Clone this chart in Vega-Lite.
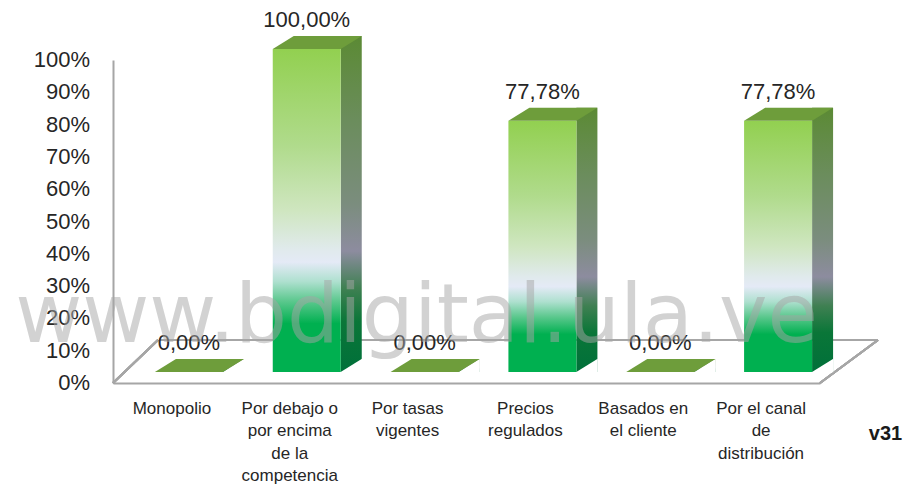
{
  "$schema": "https://vega.github.io/schema/vega-lite/v6.json",
  "autosize": {"type": "none"},
  "padding": {"left": 113, "top": 60, "right": 89, "bottom": 105},
  "width": 707,
  "height": 323,
  "background": "white",
  "config": {
    "view": {"stroke": null},
    "font": "Liberation Sans",
    "locale": {"number": {"decimal": ",", "thousands": ".", "grouping": [3], "currency": ["", " €"]}}
  },
  "datasets": {
    "bars": [
      {"category": "Monopolio", "value": 0},
      {"category": "Por debajo o por encima de la competencia", "value": 1},
      {"category": "Por tasas vigentes", "value": 0},
      {"category": "Precios regulados", "value": 0.7778},
      {"category": "Basados en el cliente", "value": 0},
      {"category": "Por el canal de distribución", "value": 0.7778}
    ],
    "yticks": [
      {"tick": 0}, {"tick": 0.1}, {"tick": 0.2}, {"tick": 0.3}, {"tick": 0.4}, {"tick": 0.5},
      {"tick": 0.6}, {"tick": 0.7}, {"tick": 0.8}, {"tick": 0.9}, {"tick": 1}
    ]
  },
  "data": {"name": "bars"},
  "encoding": {
    "x": {
      "field": "category",
      "type": "nominal",
      "sort": null,
      "scale": {
        "domain": ["Monopolio", "Por debajo o por encima de la competencia", "Por tasas vigentes", "Precios regulados", "Basados en el cliente", "Por el canal de distribución"],
        "paddingInner": 0,
        "paddingOuter": 0
      },
      "axis": {
        "title": "v31",
        "titleAngle": 0,
        "titleX": 772,
        "titleY": 50,
        "titleAlign": "center",
        "titleBaseline": "middle",
        "titleFontSize": 20,
        "titleFontWeight": "bold",
        "titleColor": "#1a1a1a",
        "labelAngle": 0,
        "labelFontSize": 17,
        "labelLineHeight": 22.5,
        "labelPadding": 17,
        "labelColor": "#262626",
        "labelFont": "Liberation Sans",
        "ticks": false,
        "domainColor": "#a6a6a6",
        "domainWidth": 2,
        "labelExpr": "datum.label == 'Por debajo o por encima de la competencia' ? ['Por debajo o','por encima','de la','competencia'] : datum.label == 'Por tasas vigentes' ? ['Por tasas','vigentes'] : datum.label == 'Precios regulados' ? ['Precios','regulados'] : datum.label == 'Basados en el cliente' ? ['Basados en','el cliente'] : datum.label == 'Por el canal de distribución' ? ['Por el canal','de','distribución'] : datum.label"
      }
    }
  },
  "layer": [
    {
      "mark": {"type": "rule", "color": "#a6a6a6", "strokeWidth": 2, "xOffset": 47, "x2Offset": 58},
      "encoding": {
        "x": {"datum": "Monopolio", "type": "nominal", "bandPosition": 0},
        "x2": {"datum": "Por el canal de distribución", "bandPosition": 1},
        "y": {
          "datum": 0.1331,
          "type": "quantitative",
          "scale": {"domain": [0, 1]},
          "axis": {
            "labels": false,
            "title": null,
            "ticks": false,
            "grid": false,
            "domainColor": "#a6a6a6",
            "domainWidth": 2
          }
        }
      }
    },
    {
      "data": {"name": "yticks"},
      "mark": {
        "type": "text",
        "align": "right",
        "baseline": "middle",
        "fontSize": 22,
        "color": "#262626",
        "xOffset": -23
      },
      "encoding": {
        "x": {"datum": "Monopolio", "type": "nominal", "bandPosition": 0},
        "y": {"field": "tick", "type": "quantitative"},
        "text": {"field": "tick", "type": "quantitative", "format": ".0%"}
      }
    },
    {
      "mark": {"type": "rule", "color": "#a6a6a6", "strokeWidth": 2, "x2Offset": 45},
      "encoding": {
        "x": {"datum": "Monopolio", "type": "nominal", "bandPosition": 0},
        "x2": {"datum": "Monopolio", "bandPosition": 0},
        "y": {"datum": 0, "type": "quantitative"},
        "y2": {"datum": 0.1331}
      }
    },
    {
      "mark": {"type": "rule", "color": "#a6a6a6", "strokeWidth": 2, "x2Offset": 58},
      "encoding": {
        "x": {"datum": "Por el canal de distribución", "type": "nominal", "bandPosition": 1},
        "x2": {"datum": "Por el canal de distribución", "bandPosition": 1},
        "y": {"datum": 0, "type": "quantitative"},
        "y2": {"datum": 0.1331}
      }
    },
    {
      "mark": {
        "type": "bar",
        "width": 21,
        "xOffset": 61.5,
        "yOffset": -24,
        "y2Offset": -11,
        "fill": {
          "gradient": "linear", "x1": 0, "y1": 0, "x2": 0, "y2": 1,
          "stops": [
            {"offset": 0, "color": "#5b8a34"},
            {"offset": 0.25, "color": "#6b8d5c"},
            {"offset": 0.5, "color": "#7b8d7e"},
            {"offset": 0.64, "color": "#8d8c9f"},
            {"offset": 0.75, "color": "#3f8052"},
            {"offset": 0.85, "color": "#0a7638"},
            {"offset": 1, "color": "#00703a"}
          ]
        }
      },
      "encoding": {
        "y": {"field": "value", "type": "quantitative"},
        "y2": {"datum": 0}
      }
    },
    {
      "mark": {
        "type": "point",
        "shape": "M -0.22 0.135 L 0.215 -0.135 L 0.215 0.135 Z",
        "size": 10000,
        "filled": true,
        "fill": "white",
        "opacity": 1,
        "strokeWidth": 0,
        "xOffset": 61.5,
        "yOffset": -17.5
      },
      "encoding": {"y": {"datum": 0, "type": "quantitative"}}
    },
    {
      "mark": {
        "type": "bar",
        "width": 68,
        "xOffset": 17,
        "yOffset": -11,
        "y2Offset": -11,
        "fill": {
          "gradient": "linear", "x1": 0, "y1": 0, "x2": 0, "y2": 1,
          "stops": [
            {"offset": 0, "color": "#92d050"},
            {"offset": 0.3, "color": "#b0db8c"},
            {"offset": 0.5, "color": "#cfe6c0"},
            {"offset": 0.62, "color": "#e0eaec"},
            {"offset": 0.66, "color": "#e4eaf6"},
            {"offset": 0.72, "color": "#aee0cf"},
            {"offset": 0.78, "color": "#5cc88e"},
            {"offset": 0.85, "color": "#00b050"},
            {"offset": 1, "color": "#00b050"}
          ]
        }
      },
      "encoding": {
        "y": {"field": "value", "type": "quantitative"},
        "y2": {"datum": 0}
      }
    },
    {
      "mark": {
        "type": "point",
        "shape": "M -0.89 0.13 L 0.47 0.13 L 0.89 -0.13 L -0.47 -0.13 Z",
        "size": 10000,
        "filled": true,
        "fill": "#6e9d3b",
        "opacity": 1,
        "strokeWidth": 0,
        "xOffset": 27.5,
        "yOffset": -17.5
      },
      "encoding": {"y": {"field": "value", "type": "quantitative"}}
    },
    {
      "mark": {
        "type": "text",
        "align": "center",
        "baseline": "alphabetic",
        "fontSize": 22,
        "color": "#262626",
        "xOffset": 17,
        "yOffset": -33
      },
      "encoding": {
        "y": {"field": "value", "type": "quantitative"},
        "text": {"field": "value", "type": "quantitative", "format": ".2%"}
      }
    },
    {
      "data": {"values": [{"watermark": "www.bdigital.ula.ve"}]},
      "mark": {
        "type": "text",
        "align": "center",
        "baseline": "alphabetic",
        "font": "DejaVu Sans",
        "fontSize": 82,
        "color": "#a6a6a6",
        "opacity": 0.5,
        "xOffset": 9
      },
      "encoding": {
        "x": {"datum": "Por tasas vigentes", "type": "nominal", "bandPosition": 0.5},
        "y": {"datum": 0.127, "type": "quantitative"},
        "text": {"field": "watermark", "type": "nominal"}
      }
    }
  ]
}
